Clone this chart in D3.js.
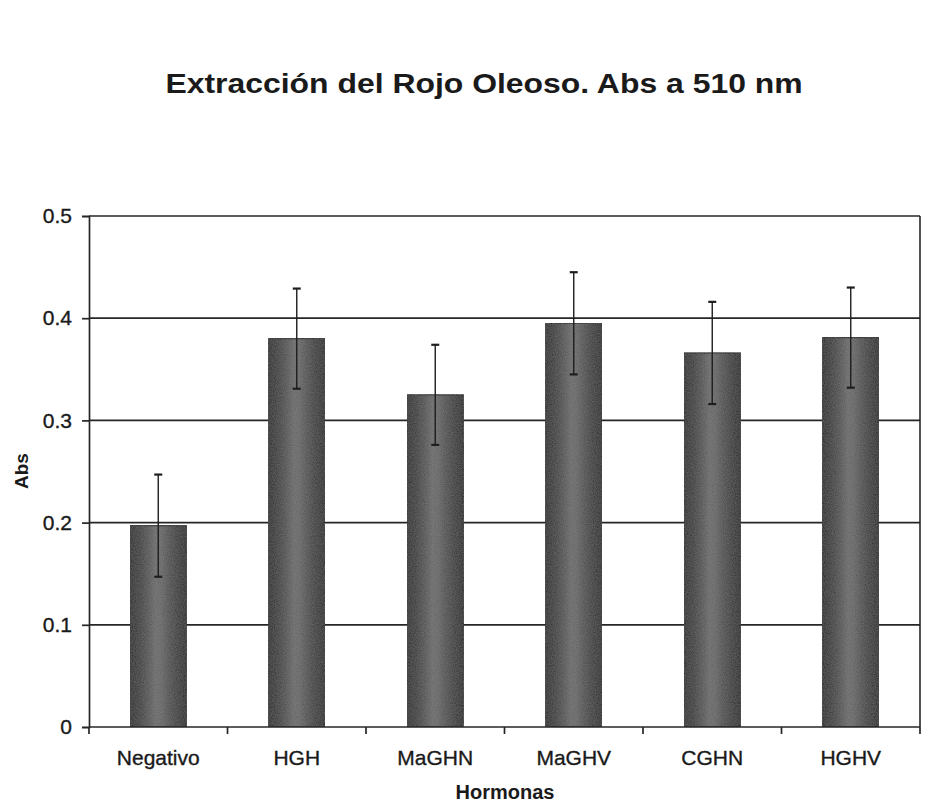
<!DOCTYPE html>
<html>
<head>
<meta charset="utf-8">
<script src="https://cdn.jsdelivr.net/npm/d3@7"></script>
<style>
  html, body { margin: 0; padding: 0; background: #ffffff; }
  svg { display: block; }
  text { font-family: "Liberation Sans", Arial, sans-serif; fill: #1a1a1a; }
</style>
</head>
<body>
<svg id="chart" width="940" height="802"></svg>
<script>
// Oil Red O extraction, absorbance at 510 nm, per hormone construct
const categories = ["Negativo", "HGH", "MaGHN", "MaGHV", "CGHN", "HGHV"];
const absValues  = [0.197, 0.380, 0.325, 0.395, 0.366, 0.381];
const absErrors  = [0.050, 0.049, 0.049, 0.050, 0.050, 0.049];
const yTicks     = [0, 0.1, 0.2, 0.3, 0.4, 0.5];
const yTickLabels = ["0", "0.1", "0.2", "0.3", "0.4", "0.5"];

const titleText = "Extracción del Rojo Oleoso. Abs a 510 nm";
const xTitle = "Hormonas";
const yTitle = "Abs";

const margin = { left: 89, right: 20, top: 216, bottom: 75 };
const plotRight = 920;
const plotBottom = 727;

const svg = d3.select("#chart");

const x = d3.scaleBand()
  .domain(categories)
  .range([margin.left, plotRight])
  .paddingInner(0.595)
  .paddingOuter(0.2975);

const y = d3.scaleLinear()
  .domain([0, 0.5])
  .range([plotBottom, margin.top]);

// cylinder-style shading for the bars
const defs = svg.append("defs");
const grad = defs.append("linearGradient")
  .attr("id", "barShade")
  .attr("x1", "0%").attr("x2", "100%").attr("y1", "0%").attr("y2", "0%");
[["0%", "#1e1e1e"], ["12%", "#2e2e2e"], ["45%", "#666666"], ["55%", "#626262"], ["88%", "#2e2e2e"], ["100%", "#1c1c1c"]]
  .forEach(([o, c]) => grad.append("stop").attr("offset", o).attr("stop-color", c));

// slight grain on the bars
const filt = defs.append("filter").attr("id", "grain").attr("x", "0").attr("y", "0").attr("width", "1").attr("height", "1");
filt.append("feTurbulence").attr("type", "fractalNoise").attr("baseFrequency", "0.9").attr("numOctaves", 2).attr("seed", 3).attr("result", "noise");
filt.append("feColorMatrix").attr("in", "noise").attr("type", "matrix")
  .attr("values", "0 0 0 0 0.5  0 0 0 0 0.5  0 0 0 0 0.5  0 0 0 0.22 0").attr("result", "gn");
filt.append("feComposite").attr("in", "gn").attr("in2", "SourceGraphic").attr("operator", "in").attr("result", "gc");
const fm = filt.append("feMerge");
fm.append("feMergeNode").attr("in", "SourceGraphic");
fm.append("feMergeNode").attr("in", "gc");

// horizontal gridlines
svg.append("g")
  .selectAll("line")
  .data(yTicks.filter(d => d > 0))
  .join("line")
  .attr("x1", margin.left).attr("x2", plotRight)
  .attr("y1", d => y(d)).attr("y2", d => y(d))
  .attr("stroke", "#262626").attr("stroke-width", 1.7);

// right frame edge
svg.append("line")
  .attr("x1", plotRight).attr("x2", plotRight)
  .attr("y1", y(0.5)).attr("y2", y(0))
  .attr("stroke", "#262626").attr("stroke-width", 1.6);

// bars
svg.append("g")
  .selectAll("rect")
  .data(categories)
  .join("rect")
  .attr("x", d => x(d))
  .attr("width", x.bandwidth())
  .attr("y", (d, i) => y(absValues[i]))
  .attr("height", (d, i) => y(0) - y(absValues[i]))
  .attr("fill", "url(#barShade)")
  .attr("filter", "url(#grain)")
  .attr("stroke", "#111111")
  .attr("stroke-width", 1.2);

// error bars
const eb = svg.append("g").attr("stroke", "#1e1e1e").attr("stroke-width", 1.4);
categories.forEach((c, i) => {
  const cx = x(c) + x.bandwidth() / 2;
  const hi = y(absValues[i] + absErrors[i]);
  const lo = y(absValues[i] - absErrors[i]);
  eb.append("line").attr("x1", cx).attr("x2", cx).attr("y1", hi).attr("y2", lo);
  eb.append("line").attr("x1", cx - 4).attr("x2", cx + 4).attr("y1", hi).attr("y2", hi).attr("stroke-width", 2.2);
  eb.append("line").attr("x1", cx - 4).attr("x2", cx + 4).attr("y1", lo).attr("y2", lo).attr("stroke-width", 2.2);
});

// y axis
const yAxis = d3.axisLeft(y)
  .tickValues(yTicks)
  .tickFormat((d, i) => yTickLabels[i])
  .tickSize(7)
  .tickPadding(10);
const gy = svg.append("g")
  .attr("transform", `translate(${margin.left},0)`)
  .call(yAxis);
gy.select(".domain").attr("stroke", "#262626").attr("stroke-width", 1.7);
gy.selectAll(".tick line").attr("stroke", "#262626").attr("stroke-width", 1.7);
gy.selectAll(".tick text")
  .attr("font-size", 21)
  .attr("fill", "#1a1a1a")
  .attr("stroke", "#1a1a1a")
  .attr("stroke-width", 0.35)
  .attr("font-family", "Liberation Sans, Arial, sans-serif");

// x axis with ticks at category boundaries
const gx = svg.append("g").attr("transform", `translate(0,${plotBottom})`);
gx.append("line")
  .attr("x1", margin.left).attr("x2", plotRight)
  .attr("stroke", "#262626").attr("stroke-width", 1.7);
const bounds = categories.map(c => x(c) - x.step() * x.paddingInner() / 2)
  .concat([plotRight]);
gx.selectAll("line.tk")
  .data(bounds)
  .join("line")
  .attr("class", "tk")
  .attr("x1", d => d).attr("x2", d => d)
  .attr("y1", 0).attr("y2", 7)
  .attr("stroke", "#262626").attr("stroke-width", 1.7);
gx.selectAll("text.cat")
  .data(categories)
  .join("text")
  .attr("class", "cat")
  .attr("x", d => x(d) + x.bandwidth() / 2)
  .attr("y", 38)
  .attr("text-anchor", "middle")
  .attr("font-size", 21)
  .attr("stroke", "#1a1a1a")
  .attr("stroke-width", 0.35)
  .text(d => d);

// axis titles
svg.append("text")
  .attr("x", 505).attr("y", 799)
  .attr("text-anchor", "middle")
  .attr("font-size", 20)
  .attr("font-weight", "bold")
  .text(xTitle);

svg.append("text")
  .attr("transform", "translate(28,471) rotate(-90)")
  .attr("text-anchor", "middle")
  .attr("font-size", 19)
  .attr("font-weight", "bold")
  .text(yTitle);

// chart title
svg.append("text")
  .attr("transform", "translate(484,93) scale(1.14,1)")
  .attr("text-anchor", "middle")
  .attr("font-size", 28)
  .attr("font-weight", "bold")
  .text(titleText);
</script>
</body>
</html>
